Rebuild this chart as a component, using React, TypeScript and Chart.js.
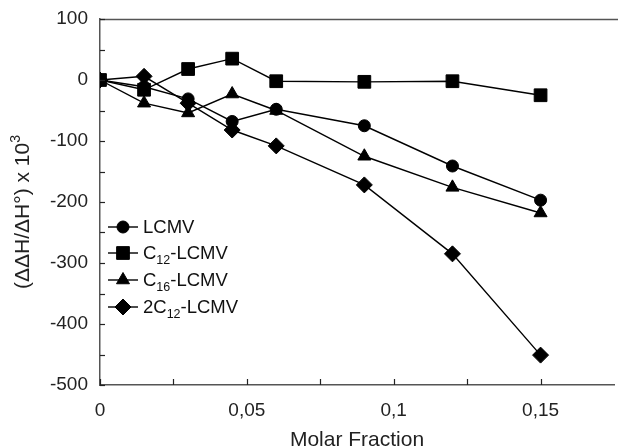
import React, { useEffect, useRef } from "react";
import { Chart, registerables } from "chart.js";

Chart.register(...registerables);

const xValues = [0, 0.015, 0.03, 0.045, 0.06, 0.09, 0.12, 0.15];
const lcmv = [0, -11, -31, -68, -48, -75, -141, -197];
const c12 = [0, -16, 18, 35, -2, -3, -2, -25];
const c16 = [0, -38, -54, -23, -50, -125, -176, -218];
const c2c12 = [0, 6, -38, -82, -108, -172, -285, -451];

const seriesNames = ["LCMV", "C12-LCMV", "C16-LCMV", "2C12-LCMV"];
// legend label parts: [before, subscript, after]
const legendParts: [string, string, string][] = [
  ["LCMV", "", ""],
  ["C", "12", "-LCMV"],
  ["C", "16", "-LCMV"],
  ["2C", "12", "-LCMV"],
];
const pointStyles = ["circle", "rect", "triangle", "rectRot"];
const pointRadii = [6, 9, 7.5, 8];

const xTicks = [0, 0.05, 0.1, 0.15];
const xMinor = [0.025, 0.075, 0.125];
const yTicks = [-500, -400, -300, -200, -100, 0, 100];
const yMinor = [-450, -350, -250, -150, -50, 50];

const xTitle = "Molar Fraction";
const yTitleMain = "(ΔΔH/ΔH°) x 10";
const yTitleSup = "3";

const FONT = "Arial, 'Liberation Sans', sans-serif";
const AXIS_COLOR = "#555";

const toPts = (ys: number[]) => xValues.map((x, i) => ({ x, y: ys[i] }));

function drawMarker(ctx: CanvasRenderingContext2D, style: string, r: number, x: number, y: number) {
  ctx.beginPath();
  if (style === "circle") {
    ctx.arc(x, y, r, 0, Math.PI * 2);
  } else if (style === "rect") {
    const s = Math.SQRT1_2 * r;
    ctx.rect(x - s, y - s, 2 * s, 2 * s);
  } else if (style === "triangle") {
    let rad = 0;
    ctx.moveTo(x + Math.sin(rad) * r, y - Math.cos(rad) * r);
    rad += (2 * Math.PI) / 3;
    ctx.lineTo(x + Math.sin(rad) * r, y - Math.cos(rad) * r);
    rad += (2 * Math.PI) / 3;
    ctx.lineTo(x + Math.sin(rad) * r, y - Math.cos(rad) * r);
  } else {
    ctx.moveTo(x - r, y);
    ctx.lineTo(x, y - r);
    ctx.lineTo(x + r, y);
    ctx.lineTo(x, y + r);
  }
  ctx.closePath();
  ctx.fill();
  ctx.stroke();
}

const innerTicksPlugin = {
  id: "innerTicks",
  afterDraw(chart: any) {
    const { ctx, chartArea, scales } = chart;
    const xs = scales.x;
    const ys = scales.y;
    ctx.save();
    ctx.strokeStyle = AXIS_COLOR;
    ctx.lineWidth = 1.3;
    ctx.beginPath();
    ctx.moveTo(chartArea.left, Math.round(chartArea.top) + 0.5);
    ctx.lineTo(chart.width, Math.round(chartArea.top) + 0.5);
    ctx.stroke();
    ctx.strokeStyle = "#222";
    ctx.lineWidth = 1.2;
    [...xTicks, ...xMinor].forEach((v) => {
      const px = Math.round(xs.getPixelForValue(v)) + 0.5;
      ctx.beginPath();
      ctx.moveTo(px, chartArea.bottom);
      ctx.lineTo(px, chartArea.bottom - 6);
      ctx.stroke();
    });
    [...yTicks, ...yMinor].forEach((v) => {
      const py = Math.round(ys.getPixelForValue(v)) + 0.5;
      ctx.beginPath();
      ctx.moveTo(chartArea.left, py);
      ctx.lineTo(chartArea.left + 5, py);
      ctx.stroke();
    });

    // axis titles
    ctx.fillStyle = "#222";
    ctx.textBaseline = "middle";
    ctx.textAlign = "center";
    ctx.font = `21px ${FONT}`;
    ctx.fillText(xTitle, (chartArea.left + chartArea.right) / 2, 440);

    ctx.save();
    ctx.translate(23, 212);
    ctx.rotate(-Math.PI / 2);
    ctx.font = `21px ${FONT}`;
    const wMain = ctx.measureText(yTitleMain).width;
    ctx.font = `14px ${FONT}`;
    const wSup = ctx.measureText(yTitleSup).width;
    const total = wMain + wSup;
    ctx.textAlign = "left";
    ctx.font = `21px ${FONT}`;
    ctx.fillText(yTitleMain, -total / 2, 0);
    ctx.font = `14px ${FONT}`;
    ctx.fillText(yTitleSup, -total / 2 + wMain, -7);
    ctx.restore();
    ctx.restore();
  },
};

const customLegendPlugin = {
  id: "customLegend",
  afterDraw(chart: any) {
    const { ctx } = chart;
    const x0 = 108;
    const x1 = 138;
    const tx = 143;
    const rowY = [227, 253, 280, 307];
    ctx.save();
    legendParts.forEach((parts, i) => {
      const y = rowY[i];
      ctx.strokeStyle = "#000";
      ctx.lineWidth = 1.4;
      ctx.beginPath();
      ctx.moveTo(x0, y);
      ctx.lineTo(x1, y);
      ctx.stroke();
      ctx.fillStyle = "#000";
      ctx.lineWidth = 1;
      drawMarker(ctx, pointStyles[i], pointRadii[i], (x0 + x1) / 2, y);
      ctx.textBaseline = "middle";
      ctx.textAlign = "left";
      let cx = tx;
      ctx.font = `18.5px ${FONT}`;
      ctx.fillStyle = "#111";
      ctx.fillText(parts[0], cx, y + 1);
      cx += ctx.measureText(parts[0]).width;
      if (parts[1]) {
        ctx.font = `12.5px ${FONT}`;
        ctx.fillText(parts[1], cx, y + 8);
        cx += ctx.measureText(parts[1]).width;
        ctx.font = `18.5px ${FONT}`;
        ctx.fillText(parts[2], cx, y + 1);
      }
    });
    ctx.restore();
  },
};

export default function App() {
  const ref = useRef<HTMLCanvasElement | null>(null);
  useEffect(() => {
    document.body.style.margin = "0";
    if (!ref.current) return;
    const series = [lcmv, c12, c16, c2c12];
    const chart = new Chart(ref.current, {
      type: "line",
      data: {
        datasets: series.map((s, i) => ({
          label: seriesNames[i],
          data: toPts(s),
          borderColor: "#000",
          backgroundColor: "#000",
          borderWidth: 1.4,
          pointStyle: pointStyles[i] as any,
          pointRadius: pointRadii[i],
          pointBackgroundColor: "#000",
          pointBorderColor: "#000",
          pointBorderWidth: 1,
          tension: 0,
          fill: false,
        })),
      },
      options: {
        animation: false,
        responsive: false,
        maintainAspectRatio: false,
        layout: { autoPadding: false, padding: { top: 19, right: 4, left: 0, bottom: 0 } },
        plugins: {
          legend: { display: false },
          tooltip: { enabled: false },
        },
        scales: {
          x: {
            type: "linear",
            min: 0,
            max: 0.175,
            afterBuildTicks: (scale: any) => {
              scale.ticks = xTicks.map((v) => ({ value: v }));
            },
            afterFit: (scale: any) => {
              scale.height = 63;
              scale.paddingLeft = 0;
              scale.paddingRight = 0;
            },
            grid: { display: false, drawTicks: false },
            border: { display: true, color: AXIS_COLOR, width: 1.5 },
            ticks: {
              padding: 14,
              color: "#222",
              font: { family: FONT, size: 19 },
              callback: (v: any) => String(Number(v)).replace(".", ","),
            },
            title: { display: false },
          },
          y: {
            type: "linear",
            min: -500,
            max: 100,
            afterBuildTicks: (scale: any) => {
              scale.ticks = yTicks.map((v) => ({ value: v }));
            },
            afterFit: (scale: any) => {
              scale.width = 100;
              scale.paddingTop = 0;
              scale.paddingBottom = 0;
            },
            grid: { display: false, drawTicks: false },
            border: { display: true, color: AXIS_COLOR, width: 1.5 },
            ticks: {
              padding: 12,
              color: "#222",
              font: { family: FONT, size: 19 },
            },
            title: { display: false },
          },
        },
      },
      plugins: [innerTicksPlugin, customLegendPlugin],
    });
    return () => chart.destroy();
  }, []);
  return (
    <div style={{ position: "absolute", left: 0, top: 0, width: 618, height: 448 }}>
      <canvas ref={ref} width={618} height={448} style={{ width: 618, height: 448 }} />
    </div>
  );
}
